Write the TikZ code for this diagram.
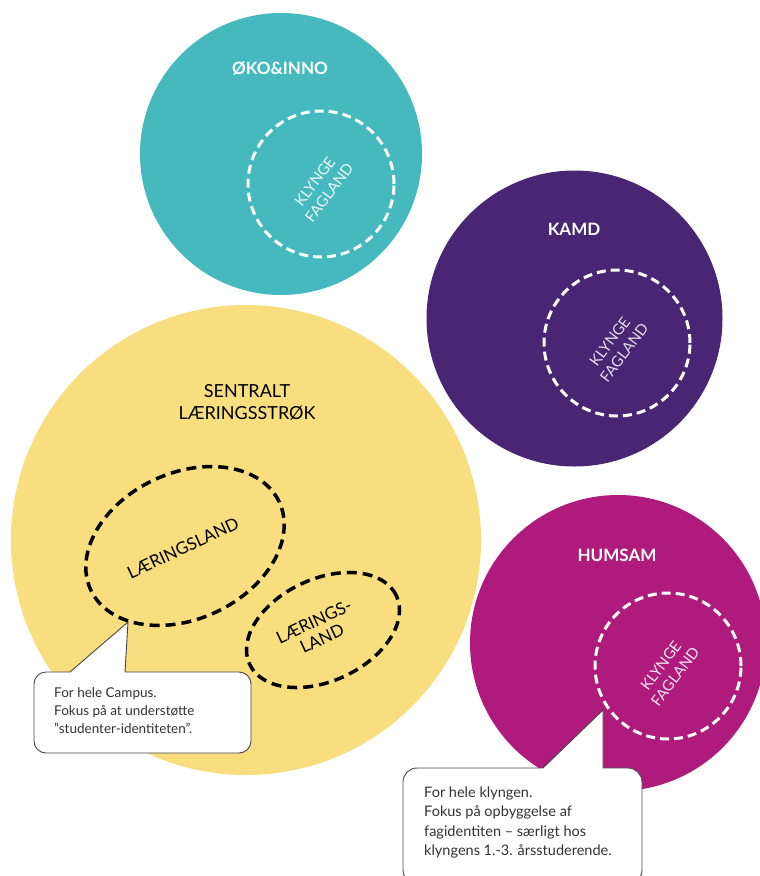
\documentclass[tikz,border=0pt]{standalone}
\usepackage{fontspec}
\setmainfont{Lato}
\usetikzlibrary{shapes.geometric}
\definecolor{cteal}{RGB}{69,185,189}
\definecolor{cpurple}{RGB}{72,38,115}
\definecolor{cyellow}{RGB}{249,222,127}
\definecolor{cmagenta}{RGB}{175,27,125}
\definecolor{cborder}{RGB}{70,70,70}
\begin{document}
\begin{tikzpicture}[x=1pt,y=-1pt,
  blob/.style={circle, inner sep=0pt, minimum size=#1},
  inner/.style={circle, inner sep=0pt, minimum size=146pt, draw=white, line width=3pt, dash pattern=on 9pt off 5pt},
  title/.style={text=white, font=\fontsize{17}{21}\selectfont\bfseries},
  klynge/.style={align=center, rotate=53, inner sep=0pt, font=\fontsize{15}{18}\selectfont},
  land/.style={ellipse, inner sep=0pt, draw=black, line width=3.5pt, dash pattern=on 10pt off 6pt, rotate=25},
  landtxt/.style={align=center, rotate=25, inner sep=0pt, font=\fontsize{17}{19}\selectfont},
  callout/.style={fill=white, draw=cborder, line width=0.9pt},
  callouttxt/.style={anchor=base west, align=left, inner sep=0pt, text=black!80}]
\useasboundingbox (0,0) rectangle (760,876);
\clip (0,0) rectangle (760,876);
% big circles
\node[blob=282pt, fill=cteal] (oko) at (281,154) {};
\node[blob=296pt, fill=cpurple] (kamd) at (574.5,318.5) {};
\node[blob=470pt, fill=cyellow] (sentral) at (246,540) {};
\node[blob=296pt, fill=cmagenta] (humsam) at (618,643) {};
% inner dashed circles
\node[inner] (okoin) at (321,184) {};
\node[inner] (kamdin) at (617,343) {};
\node[inner] (humin) at (668,666) {};
% titles
\node[title] (okot) at (280,69) {ØKO\&INNO};
\node[title] (kamdt) at (574,229) {KAMD};
\node[title] (humt) at (617,555) {HUMSAM};
\node[align=center, font=\fontsize{18}{22}\selectfont] (sentt) at (247,402) {SENTRALT\\LÆRINGSSTRØK};
% klynge labels
\node[klynge, text=white!90!cteal] (okok) at (322,187) {KLYNGE\\FAGLAND};
\node[klynge, text=white!85!cpurple] (kamdk) at (617,347) {KLYNGE\\FAGLAND};
\node[klynge, text=white!88!cmagenta] (humk) at (668,671) {KLYNGE\\FAGLAND};
% laeringsland ellipses
\node[land, minimum width=208pt, minimum height=146pt] (land1) at (185,546) {};
\node[land, minimum width=162pt, minimum height=102pt] (land2) at (323,630) {};
\node[landtxt] (land1t) at (183,548) {LÆRINGSLAND};
\node[landtxt] (land2t) at (318,630) {LÆRINGS-\\LAND};
% callout 1
\coordinate (tip1) at (128,622);
\draw[callout] (tip1) -- (125,672) {[rounded corners=12pt] -- (251,672) -- (251,753) -- (34,753) -- (34,672)} -- (70,672) -- cycle;
\node[callouttxt, font=\fontsize{13.5}{18}\selectfont] (c1) at (54,733) {For hele Campus.\\Fokus på at understøtte\\”studenter-identiteten”.};
% callout 2
\coordinate (tip2) at (603,710);
\draw[callout] (tip2) -- (603,768) {[rounded corners=14pt] -- (642,768) -- (642,884) -- (403,884) -- (403,768)} -- (543,768) -- cycle;
\node[callouttxt, font=\fontsize{14.5}{19.5}\selectfont] (c2) at (424,855.5) {For hele klyngen.\\Fokus på opbyggelse af\\fagidentiten – særligt hos\\klyngens 1.-3. årsstuderende.};
\end{tikzpicture}
\end{document}
